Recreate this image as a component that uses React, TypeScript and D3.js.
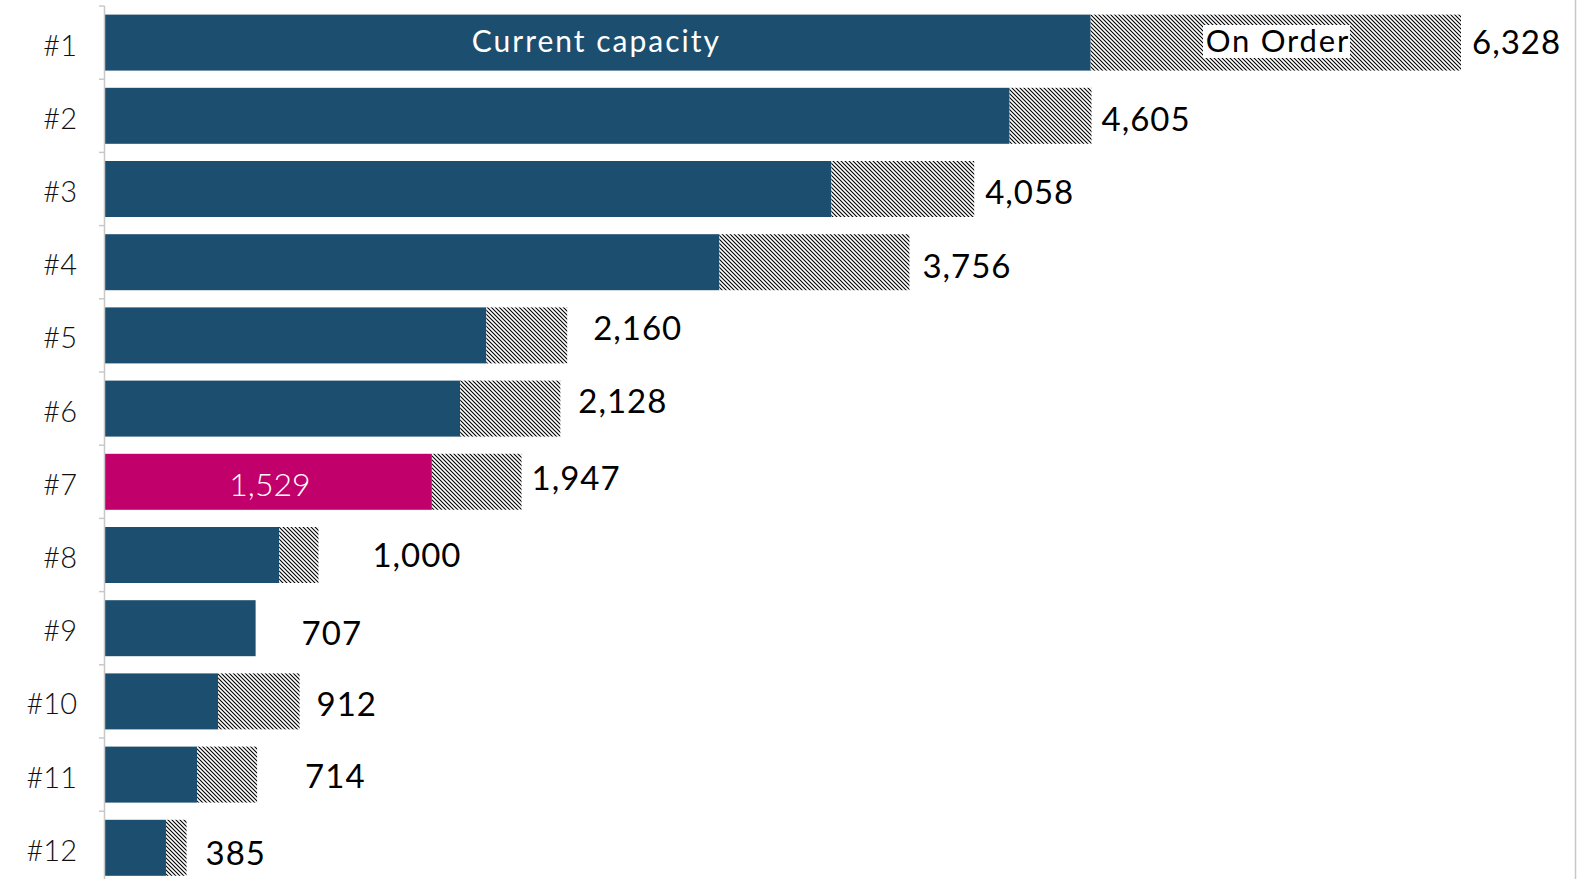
import React from "react";
import * as d3 from "d3";

const categories = ["#1", "#2", "#3", "#4", "#5", "#6", "#7", "#8", "#9", "#10", "#11", "#12"];
const totals = [6328, 4605, 4058, 3756, 2160, 2128, 1947, 1000, 707, 912, 714, 385];
const currentCapacity = [4601, 4223, 3392, 2870, 1783, 1661, 1529, 817, 707, 532, 434, 289];
const highlightIndex = 6;
// manual label nudges (px) as in the original
const labelDx = [11, 10, 11, 13, 26, 18, 10, 54, 46, 17, 48, 19];
const labelDy = [0, 3, 3, 4, -7, -7, -4, 0, 5, 3, 2, 5];

const W = 1594;
const H = 879;
const BLUE = "#1c4e6f";
const PINK = "#c2006b";
const FONT = "Lato, 'Open Sans', sans-serif";
const fmt = d3.format(",");

export default function App() {
  const x = d3.scaleLinear().domain([0, totals[0]]).range([104, 1461]);
  const y = d3
    .scaleBand<string>()
    .domain(categories)
    .range([6, 6 + 12 * 73.2])
    .paddingInner(0.235)
    .paddingOuter(0.1175);
  const bw = y.bandwidth();
  const step = y.step();

  return (
    <div style={{ position: "absolute", left: 0, top: 0, width: W, height: H, overflow: "hidden", background: "#fff" }}>
      <svg width={W} height={H} style={{ display: "block" }}>
        <defs>
          <pattern id="hatch" patternUnits="userSpaceOnUse" width={4} height={4}>
            <rect width={4} height={4} fill="#fff" />
            <path d="M-1,-1 L5,5 M-1,3 L1,5 M3,-1 L5,1" stroke="#000" strokeWidth={1.1} />
          </pattern>
        </defs>
        {/* right border */}
        <line x1={1575.5} x2={1575.5} y1={0} y2={H} stroke="#c8c8c8" strokeWidth={1.5} />
        {/* bars */}
        {categories.map((c, i) => {
          const y0 = y(c)!;
          const cur = currentCapacity[i];
          const tot = totals[i];
          return (
            <g key={c}>
              <rect x={x(0)} y={y0} width={x(cur) - x(0)} height={bw} fill={i === highlightIndex ? PINK : BLUE} />
              {tot > cur && (
                <rect x={x(cur)} y={y0} width={x(tot) - x(cur)} height={bw} fill="url(#hatch)" />
              )}
              <text
                x={x(tot) + labelDx[i]}
                y={y0 + bw / 2 + labelDy[i]}
                dy="0.36em"
                fontFamily={FONT}
                fontSize={33}
                letterSpacing={1}
                fill="#000"
              >
                {fmt(tot)}
              </text>
            </g>
          );
        })}
        {/* in-bar labels */}
        <text
          x={(x(0) + x(currentCapacity[0])) / 2 - 1}
          y={y(categories[0])! + bw / 2 - 1}
          dy="0.36em"
          textAnchor="middle"
          fontFamily={FONT}
          fontSize={30}
          letterSpacing={2}
          fill="#fff"
        >
          Current capacity
        </text>
        <rect x={1203} y={25} width={147} height={33} fill="#fff" />
        <text
          x={(x(currentCapacity[0]) + x(totals[0])) / 2 + 2}
          y={y(categories[0])! + bw / 2 - 2}
          dy="0.36em"
          textAnchor="middle"
          fontFamily={FONT}
          fontSize={31}
          letterSpacing={1.8}
          fill="#000"
        >
          On Order
        </text>
        <text
          x={(x(0) + x(currentCapacity[highlightIndex])) / 2 + 2}
          y={y(categories[highlightIndex])! + bw / 2 + 3}
          dy="0.36em"
          textAnchor="middle"
          fontFamily={FONT}
          fontWeight={300}
          fontSize={32}
          fill="#fff"
        >
          {fmt(currentCapacity[highlightIndex])}
        </text>
        {/* y axis */}
        <line x1={104.5} x2={104.5} y1={6} y2={H} stroke="#c8c8c8" strokeWidth={1.5} />
        {d3.range(categories.length + 1).map((k) => (
          <line key={k} x1={99} x2={104.5} y1={6 + k * step} y2={6 + k * step} stroke="#c8c8c8" strokeWidth={1.5} />
        ))}
        {categories.map((c) => (
          <text
            key={c}
            x={77}
            y={y(c)! + bw / 2 + 2.5}
            dy="0.36em"
            textAnchor="end"
            fontFamily={FONT}
            fontWeight={300}
            fontSize={29}
            fill="#111"
          >
            {c}
          </text>
        ))}
      </svg>
    </div>
  );
}
